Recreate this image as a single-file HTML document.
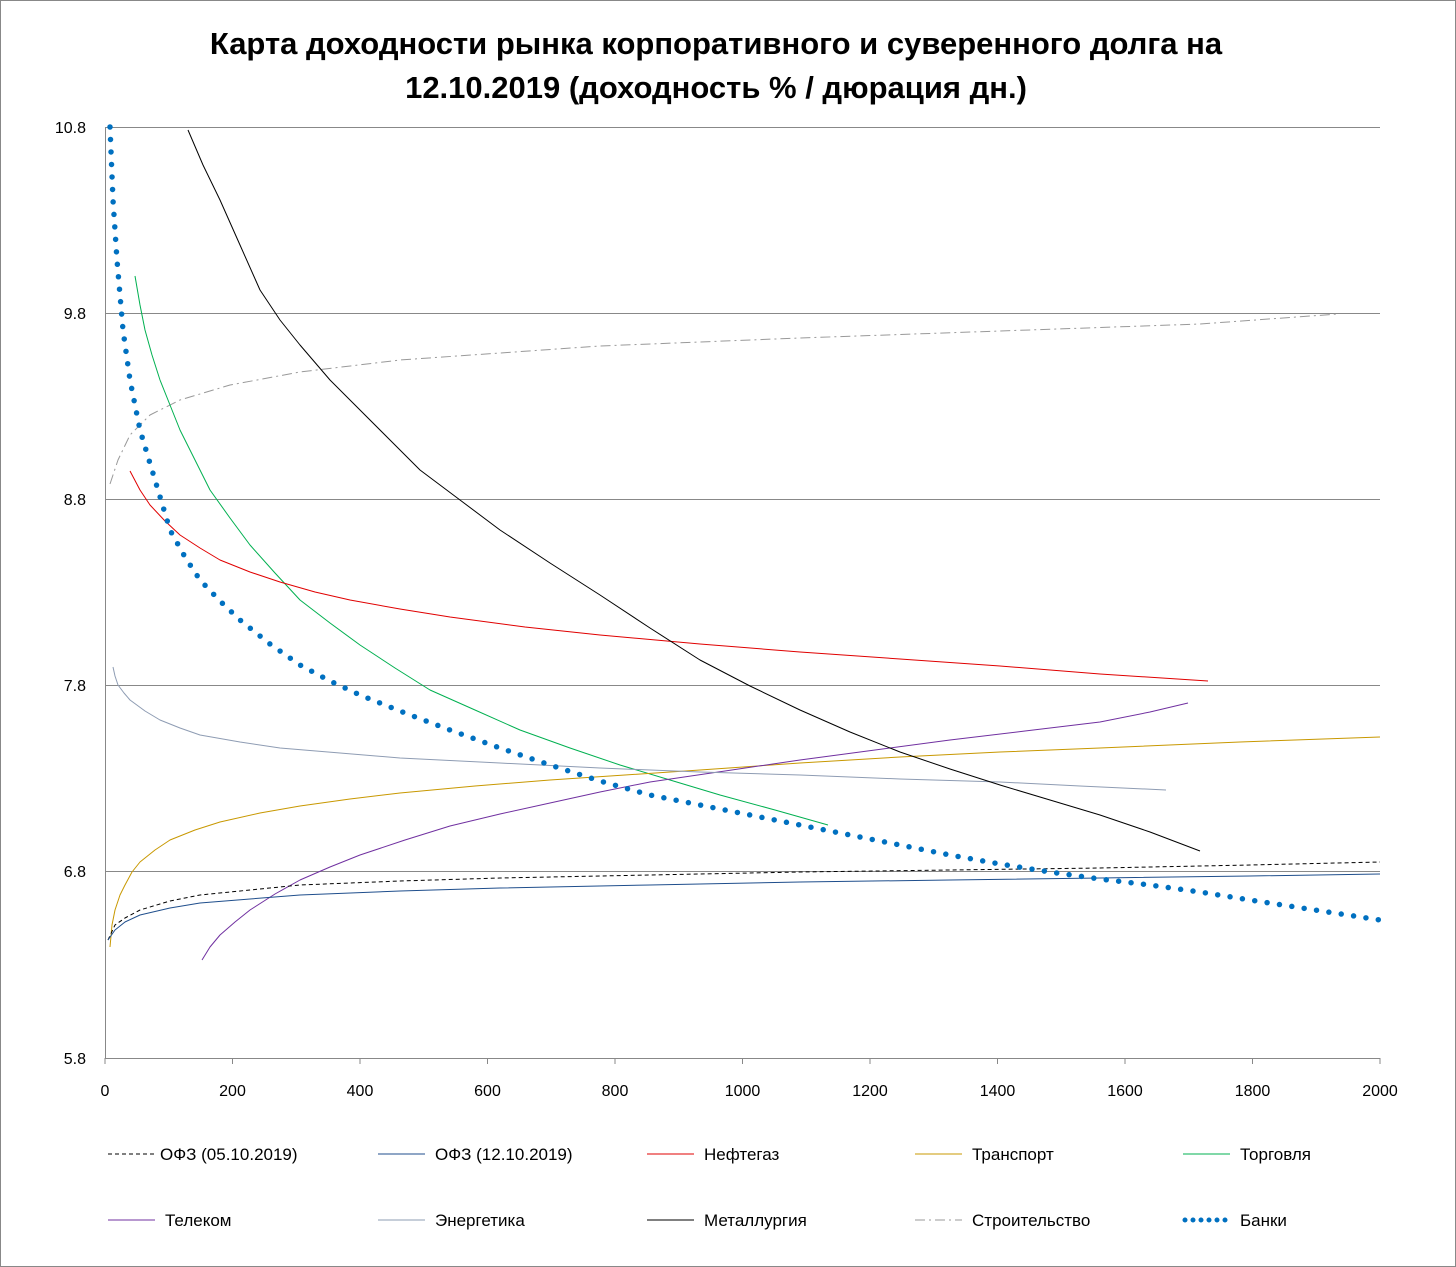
<!DOCTYPE html>
<html><head><meta charset="utf-8"><style>
html,body{margin:0;padding:0;background:#fff}
svg{display:block}
text{font-family:"Liberation Sans",sans-serif}
</style></head><body>
<svg width="1456" height="1267" viewBox="0 0 1456 1267" xmlns="http://www.w3.org/2000/svg">
<rect x="0.5" y="0.5" width="1455" height="1266" fill="#fff" stroke="#888"/>
<text x="716" y="54" text-anchor="middle" font-size="31" font-weight="bold">Карта доходности рынка корпоративного и суверенного долга на</text>
<text x="716" y="98" text-anchor="middle" font-size="31" font-weight="bold">12.10.2019 (доходность % / дюрация дн.)</text>
<g stroke="#888" stroke-width="1">
<line x1="105" y1="127.5" x2="1380" y2="127.5"/>
<line x1="105" y1="313.5" x2="1380" y2="313.5"/>
<line x1="105" y1="499.5" x2="1380" y2="499.5"/>
<line x1="105" y1="685.5" x2="1380" y2="685.5"/>
<line x1="105" y1="871.5" x2="1380" y2="871.5"/>
<line x1="105" y1="1058.5" x2="1380" y2="1058.5"/>
<line x1="105.5" y1="127" x2="105.5" y2="1058"/>
</g>
<g stroke="#888" stroke-width="1">
<line x1="105" y1="1058" x2="105" y2="1064"/><line x1="232.5" y1="1058" x2="232.5" y2="1064"/><line x1="360" y1="1058" x2="360" y2="1064"/><line x1="487.5" y1="1058" x2="487.5" y2="1064"/><line x1="615" y1="1058" x2="615" y2="1064"/><line x1="742.5" y1="1058" x2="742.5" y2="1064"/><line x1="870" y1="1058" x2="870" y2="1064"/><line x1="997.5" y1="1058" x2="997.5" y2="1064"/><line x1="1125" y1="1058" x2="1125" y2="1064"/><line x1="1252.5" y1="1058" x2="1252.5" y2="1064"/><line x1="1380" y1="1058" x2="1380" y2="1064"/>
</g>
<g font-size="16" text-anchor="end">
<text x="86" y="133">10.8</text><text x="86" y="319">9.8</text><text x="86" y="505">8.8</text><text x="86" y="691">7.8</text><text x="86" y="877">6.8</text><text x="86" y="1064">5.8</text>
</g>
<g font-size="16" text-anchor="middle">
<text x="105" y="1096">0</text><text x="232.5" y="1096">200</text><text x="360" y="1096">400</text><text x="487.5" y="1096">600</text><text x="615" y="1096">800</text><text x="742.5" y="1096">1000</text><text x="870" y="1096">1200</text><text x="997.5" y="1096">1400</text><text x="1125" y="1096">1600</text><text x="1252.5" y="1096">1800</text><text x="1380" y="1096">2000</text>
</g>
<g fill="none" stroke-linejoin="round">
<polyline stroke="#999" stroke-dasharray="10,4,2,4" points="110,484 118,460 130,435 150,415 180,400 230,385 300,372 400,360 600,346 800,338 1000,331 1200,324 1338,314"/>
<polyline stroke="#00b050" points="135,276 140,305 145,330 152,355 160,380 170,405 180,430 195,460 210,490 230,518 250,545 275,573 300,600 330,623 360,645 395,668 430,690 475,710 520,730 570,748 620,765 670,780 720,795 775,810 828,825"/>
<polyline stroke="#e00000" points="130,471 140,490 150,505 165,521 180,535 200,548 220,560 250,572 280,582 315,592 350,600 400,609 450,617 525,627 600,635 700,644 800,652 900,659 1000,666 1100,674 1208,681"/>
<polyline stroke="#c89800" points="110,947 112,925 115,910 120,895 125,885 132,872 140,862 155,850 170,840 195,830 220,822 260,813 300,806 350,799 400,793 475,786 550,780 625,775 700,770 800,763 900,757 1000,752 1100,748 1240,742 1380,737"/>
<polyline stroke="#7030a0" points="202,960 210,947 220,935 235,922 250,910 275,894 300,880 330,867 360,855 405,840 450,826 500,814 550,803 600,792 650,782 725,771 800,760 875,750 950,740 1025,731 1100,722 1150,712 1188,703"/>
<polyline stroke="#8e9cb3" points="113,667 115,676 118,685 124,693 130,700 145,711 160,720 180,728 200,735 240,742 280,748 340,753 400,758 500,763 600,768 700,772 800,775 900,779 1000,782 1080,786 1166,790"/>
<polyline stroke="#000" points="188,130 203,165 220,200 240,245 260,290 280,320 300,345 330,380 360,410 390,440 420,470 460,500 500,530 550,563 600,595 650,628 700,660 750,686 800,710 850,732 900,752 950,769 1000,785 1050,800 1100,815 1150,832 1200,851"/>
<polyline stroke="#000" stroke-dasharray="4,3" points="108,940 115,925 125,918 140,910 170,901 200,895 250,890 300,885 400,881 500,878 650,875 800,872 950,870 1100,868 1250,865 1380,862"/>
<polyline stroke="#1f4e8c" points="108,940 115,930 125,922 140,915 170,908 200,903 250,899 300,895 400,891 500,888 650,885 800,882 950,880 1100,878 1250,876 1380,874"/>
<polyline stroke="#0070c0" stroke-width="5.5" stroke-linecap="round" stroke-dasharray="0,12.5" points="110,127 113,200 117,260 123,330 130,380 140,430 155,480 170,530 185,557 200,580 220,601 240,620 270,644 300,665 330,681 360,695 405,713 450,730 500,748 550,765 600,781 650,795 700,805 750,815 800,825 850,835 900,845 950,855 1000,864 1050,872 1100,879 1150,885 1200,892 1250,900 1315,910 1380,920"/>
</g>
<g font-size="17">
<line x1="108" y1="1154" x2="155" y2="1154" stroke="#000" stroke-dasharray="4,3"/><text x="160" y="1160">ОФЗ (05.10.2019)</text>
<line x1="378" y1="1154" x2="425" y2="1154" stroke="#1f4e8c"/><text x="435" y="1160">ОФЗ (12.10.2019)</text>
<line x1="647" y1="1154" x2="694" y2="1154" stroke="#e00000"/><text x="704" y="1160">Нефтегаз</text>
<line x1="915" y1="1154" x2="962" y2="1154" stroke="#c89800"/><text x="972" y="1160">Транспорт</text>
<line x1="1183" y1="1154" x2="1230" y2="1154" stroke="#00b050"/><text x="1240" y="1160">Торговля</text>
<line x1="108" y1="1220" x2="155" y2="1220" stroke="#7030a0"/><text x="165" y="1226">Телеком</text>
<line x1="378" y1="1220" x2="425" y2="1220" stroke="#8e9cb3"/><text x="435" y="1226">Энергетика</text>
<line x1="647" y1="1220" x2="694" y2="1220" stroke="#000"/><text x="704" y="1226">Металлургия</text>
<line x1="915" y1="1220" x2="962" y2="1220" stroke="#999" stroke-dasharray="10,4,2,4"/><text x="972" y="1226">Строительство</text>
<line x1="1185" y1="1220" x2="1230" y2="1220" stroke="#0070c0" stroke-width="5" stroke-linecap="round" stroke-dasharray="0,8"/><text x="1240" y="1226">Банки</text>
</g>
</svg>
</body></html>
